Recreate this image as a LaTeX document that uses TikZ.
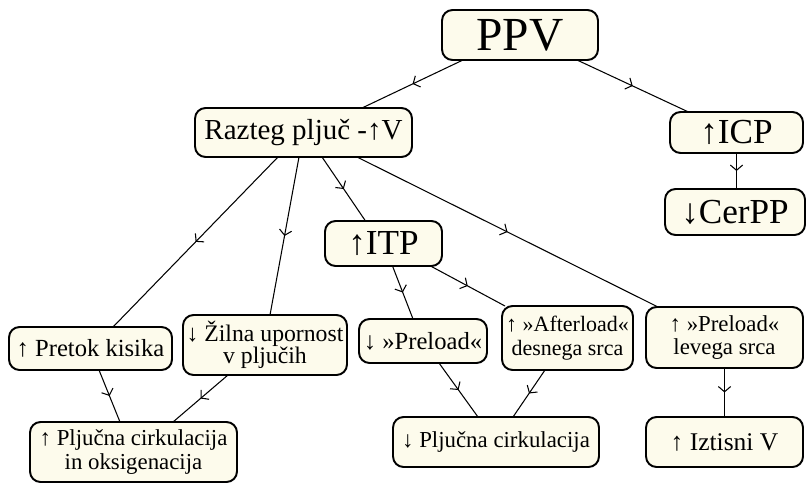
\documentclass[tikz,border=0pt]{standalone}
\usepackage{fontspec}
\setmainfont{Liberation Serif}
\usepackage{tikz}
\usetikzlibrary{arrows.meta,positioning,calc,decorations.markings}
\definecolor{boxCream}{HTML}{FDFBEC}

\begin{document}
\begin{tikzpicture}[
    x=0.02cm, y=-0.02cm,
    box/.style={draw, line width=1.1pt, rounded corners=6pt, fill=boxCream, align=center, inner sep=1pt, outer sep=0pt},
    big/.style={font=\fontsize{20}{22}\selectfont},
    link/.style={line width=0.6pt, postaction={decorate},
        decoration={markings, mark=at position 0.5 with {\arrow{Straight Barb[length=3pt,width=7pt]}}}}
]
    \useasboundingbox (0,0) rectangle (807,483);

    % Top level
    \node[box, font=\fontsize{27}{29}\selectfont, minimum width=3.12cm, minimum height=1.0cm] (ppv) at (520,35) {PPV};
    \node[box, font=\fontsize{16.5}{19}\selectfont, minimum width=4.34cm, minimum height=0.98cm] (razteg) at (303.5,132.5) {Razteg pljuč -↑V};
    \node[box, big, minimum width=2.66cm, minimum height=0.82cm] (icp) at (736.5,132.5) {↑ICP};
    \node[box, big, minimum width=2.8cm, minimum height=0.92cm] (cerpp) at (735,212) {↓CerPP};
    \node[box, big, minimum width=2.34cm, minimum height=0.9cm] (itp) at (383.5,243.5) {↑ITP};

    % Middle row
    \node[box, font=\fontsize{14}{15}\selectfont, minimum width=3.26cm, minimum height=0.86cm] (pretok) at (90.5,348.5) {↑ Pretok kisika};
    \node[box, font=\fontsize{13.5}{12.5}\selectfont, minimum width=3.28cm, minimum height=1.2cm] (zilna) at (265,345) {↓ Žilna upornost\\v pljučih};
    \node[box, font=\fontsize{14}{15}\selectfont, minimum width=2.56cm, minimum height=0.88cm] (preload_d) at (423,341) {↓ »Preload«};
    \node[box, font=\fontsize{12.5}{13.6}\selectfont, minimum width=2.62cm, minimum height=1.28cm] (afterload) at (567.5,338) {↑ »Afterload«\\desnega srca};
    \node[box, font=\fontsize{13}{13}\selectfont, minimum width=3.14cm, minimum height=1.22cm] (preload_l) at (724.5,337.5) {↑ »Preload«\\levega srca};

    % Bottom row
    \node[box, font=\fontsize{13}{14}\selectfont, minimum width=4.14cm, minimum height=1.2cm] (cirk_oks) at (133.5,452) {↑ Pljučna cirkulacija\\in oksigenacija};
    \node[box, font=\fontsize{13}{14}\selectfont, minimum width=4.12cm, minimum height=1.0cm] (cirk) at (496,442) {↓ Pljučna cirkulacija};
    \node[box, font=\fontsize{14.5}{16}\selectfont, minimum width=3.14cm, minimum height=1.0cm] (iztisni) at (724.5,442) {↑ Iztisni V};

    % Links
    \draw[link] ($(ppv.south)+(-57,0)$) -- ($(razteg.north)+(58.5,0)$);
    \draw[link] ($(ppv.south)+(57,0)$) -- ($(icp.north)+(-48,0)$);
    \draw[link] (icp.south) -- (cerpp.north -| icp.south);
    \draw[link] ($(razteg.south)+(-25.5,0)$) -- ($(pretok.north)+(22.5,0)$);
    \draw[link] ($(razteg.south)+(-4.5,0)$) -- ($(zilna.north)+(5,0)$);
    \draw[link] ($(razteg.south)+(18.5,0)$) -- ($(itp.north)+(-18,0)$);
    \draw[link] ($(razteg.south)+(53.5,0)$) -- ($(preload_l.north)+(-66.5,0)$);
    \draw[link] ($(itp.south)+(9,0)$) -- ($(preload_d.north)+(-10,0)$);
    \draw[link] ($(itp.south)+(47,0)$) -- ($(afterload.north)+(-62.5,0)$);
    \draw[link] ($(pretok.south)+(8.5,0)$) -- ($(cirk_oks.north)+(-13.5,0)$);
    \draw[link] ($(zilna.south)+(-37,0)$) -- ($(cirk_oks.north)+(39.5,0)$);
    \draw[link] ($(preload_d.south)+(16,0)$) -- ($(cirk.north)+(-18,0)$);
    \draw[link] ($(afterload.south)+(-22.5,0)$) -- ($(cirk.north)+(17,0)$);
    \draw[link] (preload_l.south) -- (iztisni.north);
\end{tikzpicture}
\end{document}
